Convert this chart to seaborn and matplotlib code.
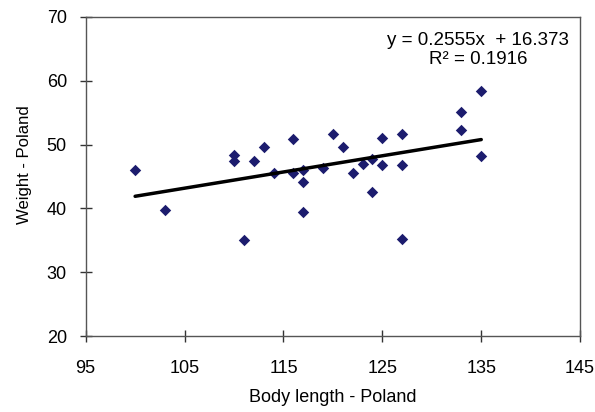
# Body length vs weight scatter with linear trend line
import numpy as np
import pandas as pd
import matplotlib as mpl
import matplotlib.pyplot as plt
import seaborn as sns

sns.set_style('white')
mpl.rcParams['font.family'] = ['Liberation Sans', 'DejaVu Sans']
mpl.rcParams['text.color'] = 'black'
mpl.rcParams['axes.labelcolor'] = 'black'
mpl.rcParams['xtick.color'] = 'black'
mpl.rcParams['ytick.color'] = 'black'

# values
body_length = [100, 103, 110, 110, 111, 112, 113, 114, 116, 116,
               117, 117, 117, 119, 120, 121, 122, 123, 124, 124,
               125, 125, 127, 127, 127, 133, 133, 135, 135]
weight = [46.0, 39.8, 48.4, 47.4, 35.0, 47.5, 49.7, 45.5, 50.9, 45.5,
          46.0, 44.1, 39.4, 46.4, 51.7, 49.7, 45.5, 47.0, 47.8, 42.6,
          51.1, 46.8, 51.7, 46.8, 35.2, 55.1, 52.3, 58.4, 48.2]

df = pd.DataFrame({'Body length - Poland': body_length, 'Weight - Poland': weight})

fig = plt.figure(figsize=(5.95, 4.12), dpi=100)
ax = fig.add_axes([0.144, 0.184, 0.831, 0.775])

sns.regplot(data=df, x='Body length - Poland', y='Weight - Poland', ax=ax, ci=None,
            marker='D', truncate=True,
            scatter_kws={'color': '#1c1c6e', 's': 34, 'linewidths': 0, 'alpha': 1},
            line_kws={'color': 'black', 'linewidth': 2.5})

ax.set_xlim(95, 145)
ax.set_ylim(20, 70)
ax.set_xticks(range(95, 146, 10))
ax.set_yticks(range(20, 71, 10))
ax.tick_params(axis='x', bottom=True, direction='inout', length=8, width=1,
               labelsize=13, pad=13, color='#333333')
ax.tick_params(axis='y', left=True, direction='inout', length=9, width=1,
               labelsize=13, pad=9, color='#333333')
for s in ax.spines.values():
    s.set_color('#555555')
    s.set_linewidth(1)

ax.set_xlabel('Body length - Poland', fontsize=13)
ax.set_ylabel('Weight - Poland', fontsize=12)
ax.xaxis.set_label_coords(0.5, -0.165)
ax.yaxis.set_label_coords(-0.108, 0.536)

ax.text(0.794, 0.895, 'y = 0.2555x  + 16.373\nR² = 0.1916', transform=ax.transAxes,
        ha='center', va='center', fontsize=13.5, linespacing=1.15)

plt.savefig('out.png', dpi=100)
